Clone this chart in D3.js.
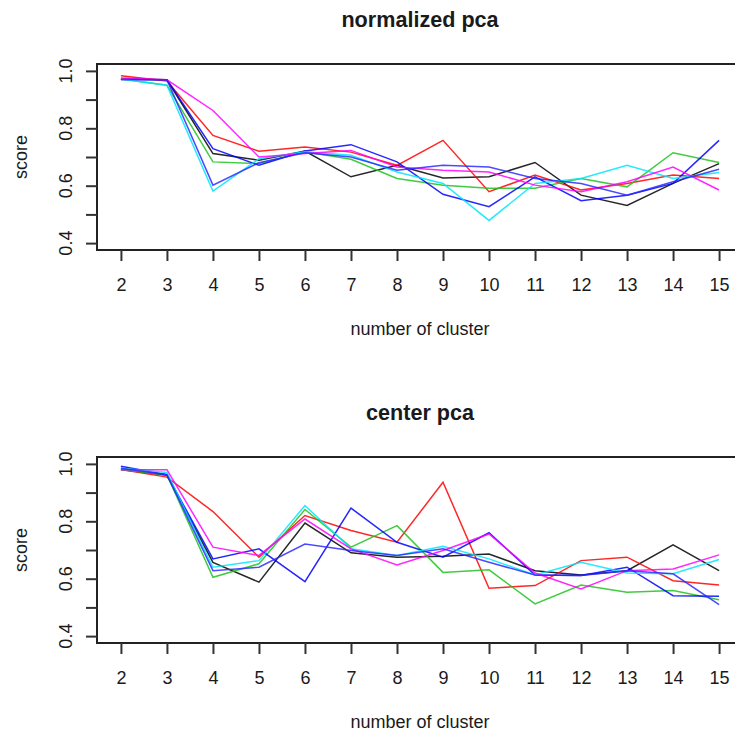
<!DOCTYPE html>
<html>
<head>
<meta charset="utf-8">
<script src="https://cdn.jsdelivr.net/npm/d3@7"></script>
<style>
  body { margin: 0; background: #fff; }
  svg { display: block; }
  text { font-family: "Liberation Sans", Arial, Helvetica, sans-serif; fill: #1a1a1a; }
  .domain { display: none; }
</style>
</head>
<body>
<svg id="chart" width="735" height="736"></svg>
<script>
// x values (number of cluster)
var clusters = [2, 3, 4, 5, 6, 7, 8, 9, 10, 11, 12, 13, 14, 15];

// line colours, in plotting order
var lineColors = ["black", "#ff0000", "#1fc21f", "#0000ff", "#00e5ff", "#ff00ff", "#2a2aff"];

// normalized pca scores
var normBlack   = [0.972, 0.969, 0.712, 0.689, 0.721, 0.631, 0.671, 0.627, 0.631, 0.681, 0.567, 0.531, 0.608, 0.677];
var normRed     = [0.983, 0.965, 0.775, 0.720, 0.735, 0.717, 0.671, 0.758, 0.579, 0.637, 0.585, 0.608, 0.637, 0.625];
var normGreen   = [0.972, 0.950, 0.683, 0.677, 0.718, 0.692, 0.625, 0.602, 0.591, 0.591, 0.625, 0.596, 0.715, 0.681];
var normBlueA   = [0.970, 0.969, 0.729, 0.671, 0.721, 0.743, 0.683, 0.570, 0.527, 0.631, 0.548, 0.567, 0.608, 0.758];
var normCyan    = [0.972, 0.950, 0.581, 0.694, 0.718, 0.706, 0.648, 0.608, 0.479, 0.608, 0.625, 0.671, 0.625, 0.646];
var normMagenta = [0.975, 0.969, 0.862, 0.700, 0.712, 0.723, 0.665, 0.654, 0.648, 0.602, 0.579, 0.614, 0.665, 0.585];
var normBlueB   = [0.970, 0.969, 0.602, 0.680, 0.715, 0.700, 0.654, 0.671, 0.665, 0.625, 0.608, 0.567, 0.614, 0.657];

// center pca scores
var centBlack   = [0.980, 0.960, 0.657, 0.588, 0.794, 0.690, 0.675, 0.678, 0.686, 0.628, 0.613, 0.628, 0.718, 0.628];
var centRed     = [0.980, 0.954, 0.834, 0.675, 0.820, 0.768, 0.727, 0.936, 0.567, 0.576, 0.663, 0.675, 0.593, 0.578];
var centGreen   = [0.980, 0.962, 0.605, 0.652, 0.841, 0.710, 0.785, 0.622, 0.631, 0.512, 0.578, 0.553, 0.559, 0.527];
var centBlueA   = [0.992, 0.962, 0.669, 0.704, 0.590, 0.846, 0.727, 0.675, 0.760, 0.613, 0.611, 0.640, 0.541, 0.539];
var centCyan    = [0.985, 0.970, 0.640, 0.663, 0.855, 0.704, 0.681, 0.713, 0.669, 0.613, 0.657, 0.620, 0.617, 0.667];
var centMagenta = [0.980, 0.980, 0.710, 0.681, 0.808, 0.704, 0.648, 0.698, 0.756, 0.620, 0.564, 0.628, 0.634, 0.683];
var centBlueB   = [0.985, 0.962, 0.628, 0.640, 0.721, 0.698, 0.681, 0.704, 0.657, 0.613, 0.611, 0.628, 0.617, 0.510];

// axis ticks
var yTicks = [0.4, 0.5, 0.6, 0.7, 0.8, 0.9, 1.0];
var yLabels = [0.4, 0.6, 0.8, 1.0];

var panels = [
  { title: "normalized pca", top: 64,
    series: [normBlack, normRed, normGreen, normBlueA, normCyan, normMagenta, normBlueB] },
  { title: "center pca", top: 457,
    series: [centBlack, centRed, centGreen, centBlueA, centCyan, centMagenta, centBlueB] }
];

var plotLeft = 97, plotRight = 743, plotH = 186;

var svg = d3.select("#chart");

// x range padded by 4% like R does
var x = d3.scaleLinear().domain([2 - 0.52, 15 + 0.52]).range([plotLeft, plotRight]);

panels.forEach(function(p) {
  var y = d3.scaleLinear().domain([0.376, 1.024]).range([p.top + plotH, p.top]);
  var g = svg.append("g");

  var line = d3.line()
      .x(function(d, i) { return x(clusters[i]); })
      .y(function(d) { return y(d); });

  // lines
  p.series.forEach(function(s, k) {
    g.append("path")
        .datum(s)
        .attr("d", line)
        .attr("fill", "none")
        .attr("stroke", lineColors[k])
        .attr("stroke-width", 1.5)
        .attr("stroke-opacity", 0.85);
  });

  // box
  g.append("rect")
      .attr("x", plotLeft).attr("y", p.top)
      .attr("width", plotRight - plotLeft).attr("height", plotH)
      .attr("fill", "none").attr("stroke", "#222").attr("stroke-width", 2);

  // x axis
  var xa = g.append("g")
      .attr("transform", "translate(0," + (p.top + plotH) + ")")
      .call(d3.axisBottom(x).tickValues(clusters).tickSize(11).tickPadding(17)
            .tickFormat(d3.format("d")));
  xa.selectAll(".tick line").attr("stroke", "#333").attr("stroke-width", 2);
  xa.selectAll(".tick text").attr("font-size", 18).attr("fill", "#1a1a1a");

  // y axis ticks
  var ya = g.append("g")
      .attr("transform", "translate(" + plotLeft + ",0)")
      .call(d3.axisLeft(y).tickValues(yTicks).tickSize(11).tickFormat(""));
  ya.selectAll(".tick line").attr("stroke", "#333").attr("stroke-width", 2);

  // y tick labels, rotated like R
  g.selectAll(".ylab")
      .data(yLabels)
      .enter().append("text")
      .attr("transform", function(d) { return "translate(72," + y(d) + ") rotate(-90)"; })
      .attr("text-anchor", "middle")
      .attr("font-size", 18)
      .text(d3.format(".1f"));

  // title
  g.append("text")
      .attr("x", 420).attr("y", p.top - 37)
      .attr("text-anchor", "middle")
      .attr("font-size", 21.6)
      .attr("font-weight", "bold")
      .text(p.title);

  // axis titles
  g.append("text")
      .attr("x", 420).attr("y", p.top + 271)
      .attr("text-anchor", "middle")
      .attr("font-size", 18)
      .text("number of cluster");

  g.append("text")
      .attr("transform", "translate(27," + (p.top + plotH / 2) + ") rotate(-90)")
      .attr("text-anchor", "middle")
      .attr("font-size", 18)
      .text("score");
});
</script>
</body>
</html>
